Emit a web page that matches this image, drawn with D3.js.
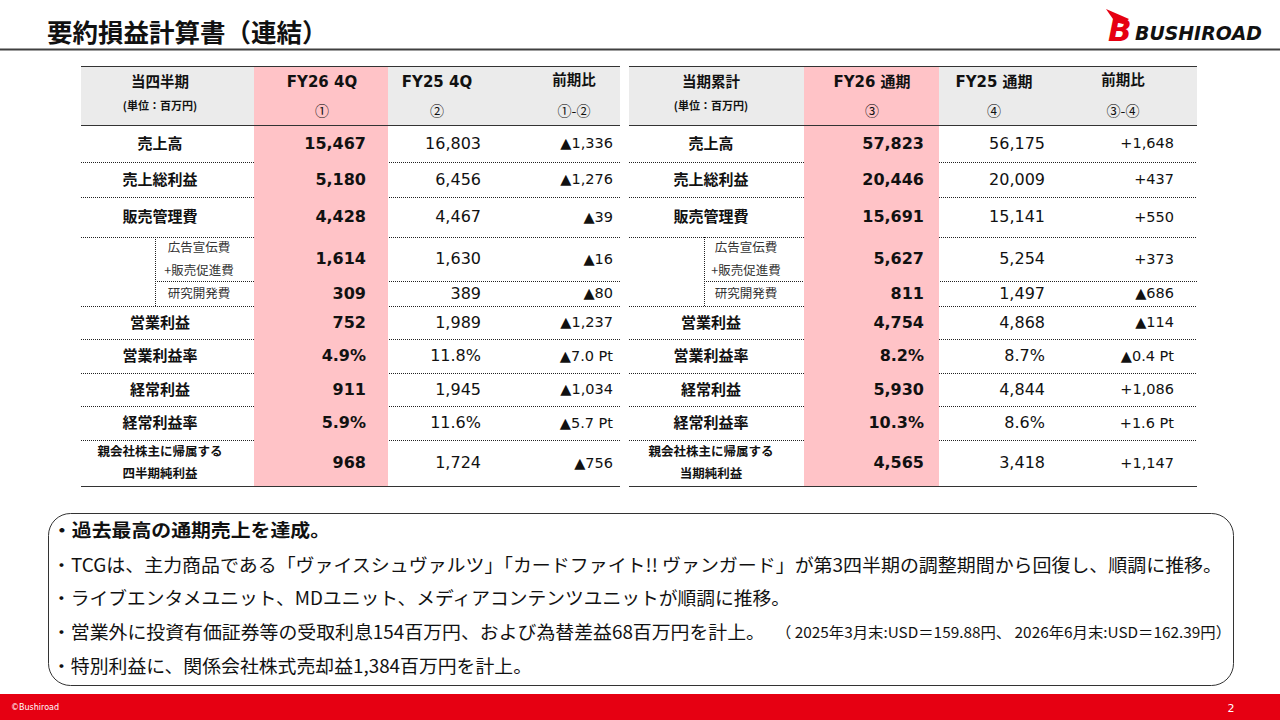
<!DOCTYPE html>
<html>
<head>
<meta charset="utf-8">
<script src="https://cdn.jsdelivr.net/npm/d3@7"></script>
<style>
  body { margin: 0; background: #fff; }
  svg { display: block; }
</style>
</head>
<body>
<svg id="slide" width="1280" height="720"></svg>
<script>
// ---- data ----
var rowLabels = ["売上高", "売上総利益", "販売管理費", "広告宣伝費|+販売促進費", "研究開発費",
  "営業利益", "営業利益率", "経常利益", "経常利益率", "親会社株主に帰属する|四半期純利益"];
var rowLabelsFull = ["売上高", "売上総利益", "販売管理費", "広告宣伝費|+販売促進費", "研究開発費",
  "営業利益", "営業利益率", "経常利益", "経常利益率", "親会社株主に帰属する|当期純利益"];
var rowKinds = ["amt", "amt", "amt", "amt", "amt", "amt", "pct", "amt", "pct", "amt"];
var rowIsSub = [false, false, false, true, true, false, false, false, false, false];

var q4FY26 = [15467, 5180, 4428, 1614, 309, 752, 4.9, 911, 5.9, 968];
var q4FY25 = [16803, 6456, 4467, 1630, 389, 1989, 11.8, 1945, 11.6, 1724];
var q4Diff = [-1336, -1276, -39, -16, -80, -1237, -7.0, -1034, -5.7, -756];

var fullFY26 = [57823, 20446, 15691, 5627, 811, 4754, 8.2, 5930, 10.3, 4565];
var fullFY25 = [56175, 20009, 15141, 5254, 1497, 4868, 8.7, 4844, 8.6, 3418];
var fullDiff = [1648, 437, 550, 373, -686, -114, -0.4, 1086, 1.6, 1147];

var q4Heads = ["当四半期", "FY26 4Q", "FY25 4Q", "前期比"];
var q4SubHeads = ["(単位：百万円)", "①", "②", "①-②"];
var fullHeads = ["当期累計", "FY26 通期", "FY25 通期", "前期比"];
var fullSubHeads = ["(単位：百万円)", "③", "④", "③-④"];

var bullets = [
  { text: "・過去最高の通期売上を達成。", bold: true },
  { text: "・TCGは、主力商品である「ヴァイスシュヴァルツ」「カードファイト!! ヴァンガード」が第3四半期の調整期間から回復し、順調に推移。" },
  { text: "・ライブエンタメユニット、MDユニット、メディアコンテンツユニットが順調に推移。" },
  { text: "・営業外に投資有価証券等の受取利息154百万円、および為替差益68百万円を計上。", note: "（ 2025年3月末:USD＝159.88円、 2026年6月末:USD＝162.39円）" },
  { text: "・特別利益に、関係会社株式売却益1,384百万円を計上。" }
];

// ---- layout ----
var W = 1280, H = 720;
var JP = "'Noto Sans CJK JP', sans-serif";
var NUM = "'DejaVu Sans', 'Noto Sans CJK JP', sans-serif";
var PINK = "#ffc3c7", GRAY = "#ebebeb", RED = "#e60012";

var headTop = 66, headBottom = 125;
var rowHeights = [37, 35, 40, 44, 25, 33, 34, 33, 34, 46];
var rowEdges = [headBottom].concat(Array.from(d3.cumsum(rowHeights), function(v) { return headBottom + v; }));
var rowY = d3.scaleOrdinal().domain(d3.range(rowLabels.length))
  .range(d3.range(rowLabels.length).map(function(i) { return (rowEdges[i] + rowEdges[i + 1]) / 2; }));
var jpShift = -2; // CJK glyphs sit a little low on the central baseline

var fmt = d3.format(",");
function fmtVal(v, kind) {
  return kind === "pct" ? v.toFixed(1) + "%" : fmt(v);
}
function fmtDiff(v, kind) {
  var sign = v < 0 ? "▲" : "+";
  return kind === "pct" ? sign + Math.abs(v).toFixed(1) + " Pt" : sign + fmt(Math.abs(v));
}

var svg = d3.select("#slide");

// title + rule
svg.append("text")
  .attr("x", 47).attr("y", 30)
  .attr("dominant-baseline", "central")
  .style("font-family", JP).style("font-weight", 700).style("font-size", "25.5px")
  .attr("fill", "#111")
  .text("要約損益計算書（連結）");

svg.append("line")
  .attr("x1", 0).attr("x2", W).attr("y1", 49.5).attr("y2", 49.5)
  .attr("stroke", "#404040").attr("stroke-width", 2);

// logo
var logo = svg.append("g");
logo.append("path")
  .attr("d", "M1106,9 L1129,19 L1123,24 L1115,22 Z")
  .attr("fill", RED);
logo.append("text")
  .attr("x", 1108).attr("y", 41)
  .style("font-family", "'DejaVu Sans', sans-serif").style("font-weight", 700)
  .style("font-style", "italic").style("font-size", "31px")
  .attr("fill", RED).text("B");
logo.append("text")
  .attr("x", 1135).attr("y", 39.5)
  .attr("textLength", 127).attr("lengthAdjust", "spacingAndGlyphs")
  .style("font-family", "'DejaVu Sans', sans-serif").style("font-weight", 700)
  .style("font-style", "italic").style("font-size", "20px")
  .attr("fill", "#111").text("BUSHIROAD");

// ---- tables ----
function drawTable(cfg) {
  var g = svg.append("g");
  var n = rowLabels.length;

  // header background
  g.append("rect")
    .attr("x", cfg.x0).attr("y", headTop)
    .attr("width", cfg.x1 - cfg.x0).attr("height", headBottom - headTop)
    .attr("fill", GRAY);

  // dotted row separators
  var seps = d3.range(1, n).map(function(i) {
    return { y: rowEdges[i], x0: (i === 4 ? cfg.subX : cfg.x0) };
  });
  g.selectAll("line.sep").data(seps).enter().append("line")
    .attr("class", "sep")
    .attr("x1", function(d) { return d.x0; }).attr("x2", cfg.x1)
    .attr("y1", function(d) { return d.y + 0.5; }).attr("y2", function(d) { return d.y + 0.5; })
    .attr("stroke", "#222").attr("stroke-width", 1).attr("stroke-dasharray", "1,1");

  // vertical dotted line for sub rows
  var subIdx = d3.range(n).filter(function(i) { return rowIsSub[i]; });
  g.append("line")
    .attr("x1", cfg.subX + 0.5).attr("x2", cfg.subX + 0.5)
    .attr("y1", rowEdges[subIdx[0]]).attr("y2", rowEdges[subIdx[subIdx.length - 1] + 1])
    .attr("stroke", "#222").attr("stroke-width", 1).attr("stroke-dasharray", "1,1");

  // highlighted column
  g.append("rect")
    .attr("x", cfg.pinkX0).attr("y", headTop)
    .attr("width", cfg.pinkX1 - cfg.pinkX0).attr("height", rowEdges[n] - headTop)
    .attr("fill", PINK);

  // solid rules
  g.selectAll("line.rule").data([headTop, headBottom, rowEdges[n]]).enter().append("line")
    .attr("class", "rule")
    .attr("x1", cfg.x0).attr("x2", cfg.x1)
    .attr("y1", function(d) { return d + 0.5; }).attr("y2", function(d) { return d + 0.5; })
    .attr("stroke", "#333").attr("stroke-width", 1);

  // header texts
  g.selectAll("text.head").data(cfg.heads).enter().append("text")
    .attr("class", "head")
    .attr("x", function(d, i) { return cfg.headCx[i]; })
    .attr("y", function(d, i) { return i === 0 || i === 3 ? 82 + jpShift : 82; })
    .attr("text-anchor", "middle").attr("dominant-baseline", "central")
    .style("font-family", function(d, i) { return i === 0 ? JP : NUM; })
    .style("font-weight", 700)
    .style("font-size", function(d, i) { return i === 0 || i === 3 ? "14.5px" : "15px"; })
    .attr("fill", "#111")
    .text(function(d) { return d; });

  g.selectAll("text.subhead").data(cfg.subHeads).enter().append("text")
    .attr("class", "subhead")
    .attr("x", function(d, i) { return cfg.headCx[i]; })
    .attr("y", function(d, i) { return i === 0 ? 105 : 110; })
    .attr("text-anchor", "middle").attr("dominant-baseline", "central")
    .style("font-family", JP)
    .style("font-weight", function(d, i) { return i === 0 ? 700 : 400; })
    .style("font-size", function(d, i) { return i === 0 ? "11px" : "14px"; })
    .attr("fill", "#111")
    .text(function(d) { return d; });

  // row labels
  var labels = g.selectAll("text.label").data(cfg.labels).enter().append("text")
    .attr("class", "label")
    .attr("text-anchor", "middle")
    .attr("dominant-baseline", "central")
    .style("font-family", JP)
    .style("font-weight", function(d, i) { return rowIsSub[i] ? 400 : 700; })
    .style("font-size", function(d, i) {
      if (rowIsSub[i]) return "12.5px";
      return d.indexOf("|") >= 0 ? "12.5px" : "15px";
    })
    .attr("fill", function(d, i) { return rowIsSub[i] ? "#333" : "#111"; });

  labels.each(function(d, i) {
    var parts = d.split("|");
    var cx = rowIsSub[i] ? cfg.subCx : cfg.labelCx;
    var el = d3.select(this);
    var lineGap = rowIsSub[i] ? 23 : 22;
    parts.forEach(function(p, k) {
      el.append("tspan")
        .attr("x", cx)
        .attr("y", rowY(i) + jpShift + (k - (parts.length - 1) / 2) * lineGap)
        .text(p);
    });
  });

  // values
  var cols = [
    { vals: cfg.cur, weight: 700, size: "16px", f: fmtVal },
    { vals: cfg.prev, weight: 400, size: "16px", f: fmtVal },
    { vals: cfg.diff, weight: 400, size: "14.5px", f: fmtDiff }
  ];
  cols.forEach(function(c, ci) {
    g.selectAll("text.v" + ci).data(c.vals).enter().append("text")
      .attr("class", "v" + ci)
      .attr("x", cfg.valRight[ci])
      .attr("y", function(d, i) { return rowY(i) - 0.5; })
      .attr("text-anchor", "end").attr("dominant-baseline", "central")
      .style("font-family", NUM).style("font-weight", c.weight).style("font-size", c.size)
      .attr("fill", "#111")
      .text(function(d, i) { return c.f(d, rowKinds[i]); });
  });
}

drawTable({
  x0: 81, x1: 620, pinkX0: 254, pinkX1: 388,
  labelCx: 160, subX: 155, subCx: 199,
  headCx: [160, 322, 437, 574], valRight: [366, 481, 613],
  heads: q4Heads, subHeads: q4SubHeads, labels: rowLabels,
  cur: q4FY26, prev: q4FY25, diff: q4Diff
});

drawTable({
  x0: 629, x1: 1197, pinkX0: 804, pinkX1: 939,
  labelCx: 711, subX: 704, subCx: 746,
  headCx: [711, 872, 994, 1123], valRight: [924, 1045, 1174],
  heads: fullHeads, subHeads: fullSubHeads, labels: rowLabelsFull,
  cur: fullFY26, prev: fullFY25, diff: fullDiff
});

// ---- comment box ----
svg.append("rect")
  .attr("x", 48.5).attr("y", 513.5).attr("width", 1185).attr("height", 172)
  .attr("rx", 22).attr("ry", 22)
  .attr("fill", "none").attr("stroke", "#333").attr("stroke-width", 1);

var bulletY = [529, 564, 597, 631, 665];
var bulletEnd = [330, 1222, 790, 765, 532];
svg.selectAll("text.bullet").data(bullets).enter().append("text")
  .attr("class", "bullet")
  .attr("x", 52).attr("y", function(d, i) { return bulletY[i]; })
  .attr("dominant-baseline", "central")
  .attr("textLength", function(d, i) { return bulletEnd[i] - 52; })
  .attr("lengthAdjust", "spacingAndGlyphs")
  .style("font-family", JP)
  .style("font-weight", function(d) { return d.bold ? 700 : 400; })
  .style("font-size", "18px")
  .attr("fill", "#111")
  .text(function(d) { return d.text; });

svg.selectAll("text.note").data(bullets.filter(function(d) { return d.note; })).enter().append("text")
  .attr("class", "note")
  .attr("x", 776).attr("y", bulletY[3])
  .attr("dominant-baseline", "central")
  .attr("textLength", 455).attr("lengthAdjust", "spacingAndGlyphs")
  .style("font-family", JP).style("font-size", "15px")
  .attr("fill", "#111")
  .text(function(d) { return d.note; });

// ---- footer ----
svg.append("rect")
  .attr("x", 0).attr("y", 694).attr("width", W).attr("height", H - 694)
  .attr("fill", RED);
svg.append("text")
  .attr("x", 11).attr("y", 707).attr("dominant-baseline", "central")
  .style("font-family", "'DejaVu Sans', sans-serif").style("font-size", "8px")
  .attr("fill", "#fff").text("©Bushiroad");
svg.append("text")
  .attr("x", 1231).attr("y", 708).attr("dominant-baseline", "central")
  .attr("text-anchor", "middle")
  .style("font-family", "'DejaVu Sans', sans-serif").style("font-size", "11px")
  .attr("fill", "#fff").text("2");
</script>
</body>
</html>
